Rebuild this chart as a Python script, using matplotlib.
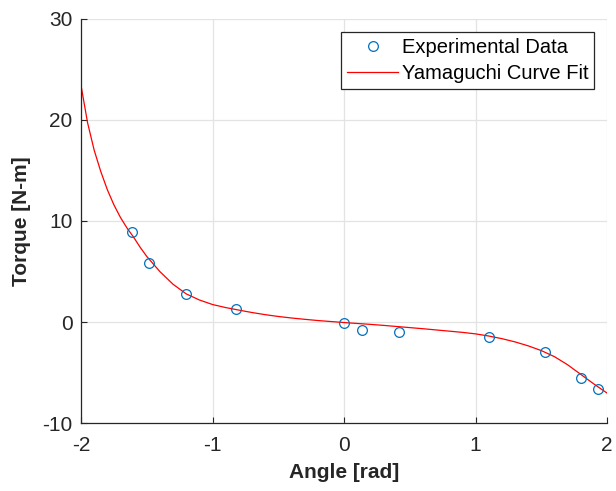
import matplotlib
matplotlib.use("Agg")
import matplotlib.pyplot as plt

# experimental points (angle [rad], torque [N-m])
exp_angle = [-1.615, -1.48, -1.20, -0.82, 0.00, 0.14, 0.42, 1.10, 1.53, 1.805, 1.93]
exp_torque = [8.9, 5.9, 2.8, 1.3, -0.1, -0.72, -0.98, -1.5, -2.95, -5.5, -6.55]

# fitted curve
fit_angle = [-2.0, -1.95, -1.9, -1.85, -1.8, -1.75, -1.7, -1.65, -1.6, -1.55, -1.5,
             -1.4, -1.3, -1.2, -1.1, -1.0, -0.9, -0.8, -0.7, -0.6, -0.5, -0.4,
             -0.3, -0.2, -0.1, 0.0, 0.1, 0.2, 0.3, 0.4, 0.5, 0.6, 0.7, 0.8,
             0.9, 1.0, 1.1, 1.2, 1.3, 1.4, 1.5, 1.6, 1.7, 1.8, 1.9, 2.0]
fit_torque = [23.4, 19.7, 17.0, 14.9, 13.1, 11.6, 10.35, 9.3, 8.4, 7.4, 6.5,
              5.0, 3.75, 2.8, 2.2, 1.75, 1.45, 1.2, 0.96, 0.75, 0.57, 0.42,
              0.29, 0.17, 0.07, -0.03, -0.12, -0.21, -0.31, -0.42, -0.53, -0.64, -0.76, -0.88,
              -1.0, -1.15, -1.36, -1.62, -1.94, -2.33, -2.8, -3.4, -4.2, -5.15, -6.1, -7.0]

plt.rcParams["font.family"] = ["Liberation Sans", "DejaVu Sans"]
plt.rcParams["axes.unicode_minus"] = False
dark = "#262626"

fig = plt.figure(figsize=(6.16, 4.91), dpi=100)
ax = fig.add_axes([0.1315, 0.1375, 0.854, 0.8248])

ax.plot(exp_angle, exp_torque, "o", mfc="none", mec="#0072BD", mew=0.9,
        ms=7, label="Experimental Data", zorder=3)
ax.plot(fit_angle, fit_torque, "-", color="#FF0000", lw=0.9,
        label="Yamaguchi Curve Fit", zorder=2)

ax.set_xlim(-2, 2)
ax.set_ylim(-10, 30)
ax.set_xticks([-2, -1, 0, 1, 2])
ax.set_yticks([-10, 0, 10, 20, 30])
ax.grid(True, color="#e3e3e3", lw=0.9)
ax.set_axisbelow(True)
for s in ("top", "right"):
    ax.spines[s].set_visible(False)
for s in ("left", "bottom"):
    ax.spines[s].set_color(dark)
    ax.spines[s].set_linewidth(0.9)
ax.tick_params(direction="in", length=4, width=0.8, colors=dark,
               labelsize=15, labelcolor=dark)
ax.tick_params(axis="x", pad=9)
ax.tick_params(axis="y", pad=6)

ax.set_xlabel("Angle [rad]", fontsize=15, fontweight="bold", color=dark, labelpad=6)
ax.set_ylabel("Torque [N-m]", fontsize=15, fontweight="bold", color=dark, labelpad=8)

leg = ax.legend(loc="upper right", bbox_to_anchor=(0.976, 0.967), fontsize=14.5,
                frameon=True, fancybox=False, framealpha=1, edgecolor=dark,
                handlelength=2.5, handletextpad=0.2, borderpad=0.3,
                labelspacing=0.35, borderaxespad=0)
leg.get_frame().set_linewidth(0.9)

fig.savefig("out.png", dpi=100)
